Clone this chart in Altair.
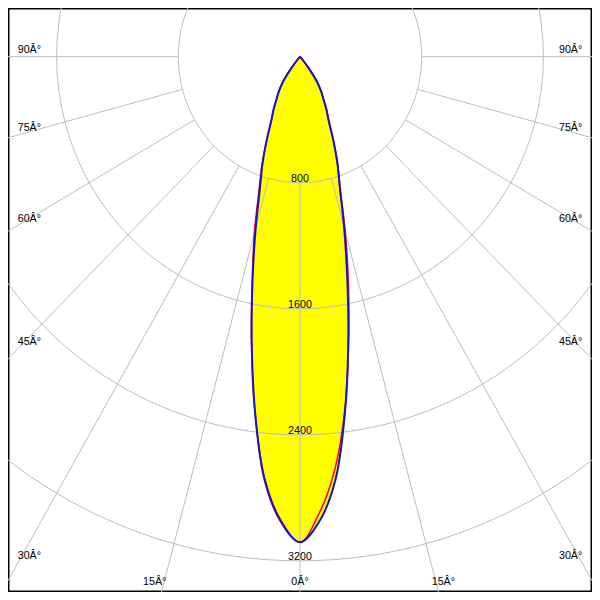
import altair as alt
import numpy as np
import pandas as pd

# ---- data (cd vs. gamma angle) ----
gamma = [0, 2.5, 5, 7.5, 10, 12.5, 15, 17.5, 20, 22.5, 25, 27.5, 30, 32.5, 35, 37.5, 40, 42.5, 45, 60, 75, 90]
blue_right = [3082, 2950, 2690, 2270, 1830, 1435, 1120, 870, 720, 570, 445, 375, 305, 255, 195, 110, 40, 0, 0, 0, 0, 0]
blue_left = [3082, 2950, 2690, 2270, 1830, 1440, 1125, 875, 720, 570, 445, 375, 305, 255, 195, 110, 40, 0, 0, 0, 0, 0]
red_right = [3082, 2900, 2630, 2260, 1840, 1470, 1150, 880, 720, 570, 445, 375, 305, 255, 195, 110, 40, 0, 0, 0, 0, 0]
red_left = [3082, 2940, 2680, 2270, 1835, 1450, 1160, 900, 730, 570, 445, 375, 305, 255, 195, 110, 40, 0, 0, 0, 0, 0]

rings = [800, 1600, 2400, 3200]
ring_labels = ["800", "1600", "2400", "3200"]
spoke_angles = [-90, -75, -60, -45, -30, -15, 0, 15, 30, 45, 60, 75, 90]
side_label_angles = [90, 75, 60, 45, 30]
bottom_label_angles = [-15, 0, 15]

# ---- geometry helpers (scale of the drawing: px per cd in x and y) ----
PX_X = 125 / 800
PX_Y = 129.5 / 800
xs = alt.Scale(domain=[-300 / PX_X, 300 / PX_X], nice=False, zero=False)
ys = alt.Scale(domain=[-550 / PX_Y, 50 / PX_Y], nice=False, zero=False)


def X(f):
    return alt.X(f, type="quantitative", scale=xs, axis=None)


def Y(f):
    return alt.Y(f, type="quantitative", scale=ys, axis=None)


def curve(left, right, name):
    rows = []
    seq = 0
    for g, v in zip(reversed(gamma), reversed(left)):
        t = np.radians(-g)
        rows.append(dict(x=v * np.sin(t), y=-v * np.cos(t), seq=seq, c=name))
        seq += 1
    for g, v in zip(gamma[1:], right[1:]):
        t = np.radians(g)
        rows.append(dict(x=v * np.sin(t), y=-v * np.cos(t), seq=seq, c=name))
        seq += 1
    return pd.DataFrame(rows)


fill_rows = []
for g, vl, vr in zip(gamma, blue_left, blue_right):
    if vr <= 0 and g > 42.5:
        continue
    fill_rows.append(dict(
        y=float(-vr * np.cos(np.radians(g))),
        xl=float(-vl * np.sin(np.radians(g))),
        xr=float(vr * np.sin(np.radians(g))),
    ))
fill_df = pd.DataFrame(fill_rows)

ring_rows = []
for R in rings:
    for i, a in enumerate(np.arange(0, 362, 2)):
        t = np.radians(a)
        ring_rows.append(dict(R=R, seq=i, x=R * np.sin(t), y=R * np.cos(t)))
ring_df = pd.DataFrame(ring_rows)

spoke_df = pd.DataFrame({
    "x": [800 * np.sin(np.radians(a)) for a in spoke_angles],
    "y": [-800 * np.cos(np.radians(a)) for a in spoke_angles],
    "x2": [9000 * np.sin(np.radians(a)) for a in spoke_angles],
    "y2": [-9000 * np.cos(np.radians(a)) for a in spoke_angles],
})

# side labels: anchored on the spoke 10 px from the frame
xa = 290 / PX_X
side_rows = []
for a in side_label_angles:
    yv = -xa * np.cos(np.radians(a)) / np.sin(np.radians(a))
    side_rows.append(dict(x=-xa, y=yv, t=f"{a}Â°", al="left"))
    side_rows.append(dict(x=xa, y=yv, t=f"{a}Â°", al="right"))
side_df = pd.DataFrame(side_rows)

yb = -543 / PX_Y
bottom_df = pd.DataFrame({
    "x": [-yb * np.tan(np.radians(a)) for a in bottom_label_angles],
    "y": [yb] * len(bottom_label_angles),
    "t": [f"{abs(a)}Â°" for a in bottom_label_angles],
})

ringlab_df = pd.DataFrame({"x": [0] * len(rings), "y": [-r for r in rings], "t": ring_labels})

FONT = "Liberation Sans"
FS = 10.7

fill = alt.Chart(fill_df).mark_area(
    orient="horizontal", color="#ffff00", fill="#ffff00", opacity=1, interpolate="monotone", clip=True
).encode(y=Y("y"), x=X("xl"), x2=alt.X2("xr"))

ring_layer = alt.Chart(ring_df).mark_line(color="#bdbdbd", strokeWidth=1, clip=True).encode(
    x=X("x"), y=Y("y"), detail="R:N", order="seq:Q")

spokes = alt.Chart(spoke_df).mark_rule(color="#bdbdbd", strokeWidth=1, clip=True).encode(
    x=X("x"), y=Y("y"), x2="x2", y2="y2")

red = alt.Chart(curve(red_left, red_right, "C0")).mark_line(
    color="#ff0000", strokeWidth=1.5, clip=True, interpolate="catmull-rom").encode(
    x=X("x"), y=Y("y"), order="seq:Q")
blue = alt.Chart(curve(blue_left, blue_right, "C90")).mark_line(
    color="#1414c8", strokeWidth=2, clip=True, interpolate="catmull-rom").encode(
    x=X("x"), y=Y("y"), order="seq:Q")

side_left = alt.Chart(side_df[side_df.al == "left"]).mark_text(
    align="left", baseline="alphabetic", dy=-4, font=FONT, fontSize=FS, color="black").encode(
    x=X("x"), y=Y("y"), text="t:N")
side_right = alt.Chart(side_df[side_df.al == "right"]).mark_text(
    align="right", baseline="alphabetic", dy=-4, font=FONT, fontSize=FS, color="black").encode(
    x=X("x"), y=Y("y"), text="t:N")

b_left = alt.Chart(bottom_df.iloc[[0]]).mark_text(
    align="right", baseline="alphabetic", dx=3, font=FONT, fontSize=FS, color="black").encode(
    x=X("x"), y=Y("y"), text="t:N")
b_mid = alt.Chart(bottom_df.iloc[[1]]).mark_text(
    align="center", baseline="alphabetic", font=FONT, fontSize=FS, color="black").encode(
    x=X("x"), y=Y("y"), text="t:N")
b_right = alt.Chart(bottom_df.iloc[[2]]).mark_text(
    align="left", baseline="alphabetic", dx=-5, font=FONT, fontSize=FS, color="black").encode(
    x=X("x"), y=Y("y"), text="t:N")

ring_text = alt.Chart(ringlab_df).mark_text(
    align="center", baseline="alphabetic", dy=-1, font=FONT, fontSize=FS, color="black").encode(
    x=X("x"), y=Y("y"), text="t:N")

chart = alt.layer(
    fill, ring_layer, spokes, ring_text, red, blue,
    side_left, side_right, b_left, b_mid, b_right
).properties(
    width=584, height=584, padding=0,
    autosize=alt.AutoSizeParams(type="none"),
    background="white",
).configure_view(stroke="black", strokeWidth=3)

chart.save("out.html", embed_options={"renderer": "svg", "actions": False})
